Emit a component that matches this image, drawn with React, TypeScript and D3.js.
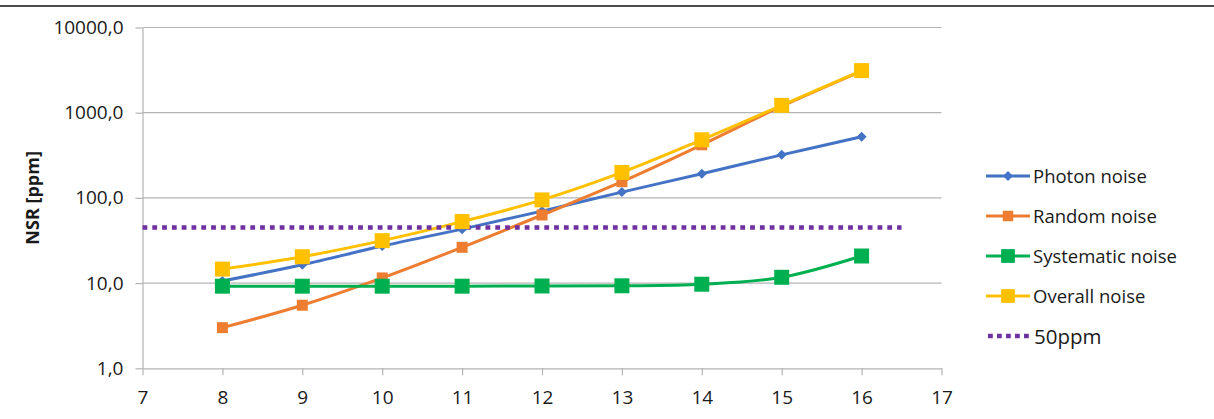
import { useEffect, useRef } from "react";
import * as d3 from "d3";

const xValues = [8, 9, 10, 11, 12, 13, 14, 15, 16];
const photonNoise = [10.6, 16.4, 27.2, 43, 70, 117, 192, 320, 522];
const randomNoise = [3.0, 5.5, 11.5, 26.3, 63, 155, 420, 1190, 3080];
const systematicNoise = [9.2, 9.2, 9.2, 9.2, 9.25, 9.3, 9.7, 11.7, 20.8];
const overallNoise = [14.6, 20.4, 31.5, 52.7, 94.7, 199, 481, 1219, 3120];
const thresholdX = [7, 16.5];
const thresholdValues = [45, 45];
const xTicks = [7, 8, 9, 10, 11, 12, 13, 14, 15, 16, 17];
const yTicks = [1, 10, 100, 1000, 10000];
const seriesNames = ["Photon noise", "Random noise", "Systematic noise", "Overall noise", "50ppm"];

const FONT = "'Open Sans', sans-serif";

const App = () => {
    const svgRef = useRef<SVGSVGElement | null>(null);

    useEffect(() => {
        const width = 1214;
        const height = 419;
        const svg = d3.select(svgRef.current)
            .attr("width", width)
            .attr("height", height);
        svg.selectAll("*").remove();

        const gridColor = "#b4b4b4";

        // top rule
        svg.append("line")
            .attr("x1", 0).attr("x2", width)
            .attr("y1", 6).attr("y2", 6)
            .attr("stroke", "#111").attr("stroke-width", 1.6);

        const xScale = d3.scaleLinear().domain([7, 17]).range([142.5, 941.5]);
        const yScale = d3.scaleLog().domain([1, 10000]).range([368.3, 27.5]);

        // grid
        svg.append("g")
            .selectAll("line")
            .data(yTicks.slice(1))
            .enter()
            .append("line")
            .attr("x1", xScale(7)).attr("x2", xScale(17))
            .attr("y1", (d) => yScale(d)).attr("y2", (d) => yScale(d))
            .attr("stroke", gridColor).attr("stroke-width", 1.2);

        // y axis
        const yAxis = svg.append("g")
            .attr("transform", `translate(${xScale(7)},0)`)
            .call(
                d3.axisLeft(yScale)
                    .tickValues(yTicks)
                    .tickFormat((d) => d3.format(".1f")(d as number).replace(".", ","))
                    .tickSize(7)
                    .tickSizeOuter(0)
                    .tickPadding(12)
            );
        yAxis.selectAll("path,line").attr("stroke", gridColor).attr("stroke-width", 1.2);
        yAxis.selectAll("text")
            .attr("font-family", FONT).attr("font-size", 19).attr("fill", "#1a1a1a");

        // x axis
        const xAxis = svg.append("g")
            .attr("transform", `translate(0,${yScale(1)})`)
            .call(
                d3.axisBottom(xScale)
                    .tickValues(xTicks)
                    .tickFormat((d) => String(d))
                    .tickSize(7)
                    .tickSizeOuter(0)
                    .tickPadding(15)
            );
        xAxis.selectAll("path,line").attr("stroke", gridColor).attr("stroke-width", 1.2);
        xAxis.selectAll("text")
            .attr("font-family", FONT).attr("font-size", 19).attr("fill", "#1a1a1a");

        // y label
        svg.append("text")
            .attr("transform", `translate(38.5,${(yScale(1) + yScale(10000)) / 2}) rotate(-90)`)
            .attr("text-anchor", "middle")
            .attr("font-family", FONT)
            .attr("font-weight", "bold")
            .attr("font-size", 18)
            .attr("fill", "#1a1a1a")
            .text("NSR [ppm]");

        const series = [
            { name: seriesNames[0], values: photonNoise, color: "#4472C4", marker: "diamond", size: 50 },
            { name: seriesNames[1], values: randomNoise, color: "#ED7D31", marker: "square", size: 121 },
            { name: seriesNames[2], values: systematicNoise, color: "#00B050", marker: "square", size: 225 },
            { name: seriesNames[3], values: overallNoise, color: "#FFC000", marker: "square", size: 225 },
        ];

        const line = d3.line<[number, number]>()
            .x((d) => xScale(d[0]))
            .y((d) => yScale(d[1]))
            .curve(d3.curveCatmullRom.alpha(0));

        const plot = svg.append("g");

        series.forEach((s) => {
            plot.append("path")
                .datum(xValues.map((x, i) => [x, s.values[i]] as [number, number]))
                .attr("d", line)
                .attr("fill", "none")
                .attr("stroke", s.color)
                .attr("stroke-width", 3);
        });

        // 50ppm threshold
        plot.append("path")
            .datum(thresholdX.map((x, i) => [x, thresholdValues[i]] as [number, number]))
            .attr("d", d3.line<[number, number]>().x((d) => xScale(d[0])).y((d) => yScale(d[1])))
            .attr("fill", "none")
            .attr("stroke", "#7030A0")
            .attr("stroke-width", 4.5)
            .attr("stroke-dasharray", "4.8 5");

        const symbolPath = (marker: string, size: number) =>
            d3.symbol().type(d3.symbolSquare).size(size)() as string;

        series.forEach((s) => {
            plot.append("g")
                .selectAll("path")
                .data(xValues.map((x, i) => [x, s.values[i]] as [number, number]))
                .enter()
                .append("path")
                .attr("d", symbolPath(s.marker, s.size))
                .attr("transform", (d) =>
                    `translate(${xScale(d[0])},${yScale(d[1])})${s.marker === "diamond" ? " rotate(45)" : ""}`)
                .attr("fill", s.color);
        });

        // legend
        const legend = svg.append("g").attr("transform", "translate(986,0)");
        const rowY = [176, 216, 256, 296, 336];
        series.forEach((s, i) => {
            const row = legend.append("g").attr("transform", `translate(0,${rowY[i]})`);
            row.append("line")
                .attr("x1", 0).attr("x2", 44)
                .attr("stroke", s.color).attr("stroke-width", 3);
            row.append("path")
                .attr("d", symbolPath(s.marker, s.marker === "diamond" ? 50 : i === 1 ? 110 : 190))
                .attr("transform", `translate(22,0)${s.marker === "diamond" ? " rotate(45)" : ""}`)
                .attr("fill", s.color);
            row.append("text")
                .attr("x", 47).attr("y", 7)
                .attr("font-family", FONT).attr("font-size", 18.5).attr("fill", "#1a1a1a")
                .text(s.name);
        });
        const lastRow = legend.append("g").attr("transform", `translate(0,${rowY[4]})`);
        lastRow.append("line")
            .attr("x1", 2).attr("x2", 46)
            .attr("stroke", "#7030A0").attr("stroke-width", 4.5)
            .attr("stroke-dasharray", "4.8 4.2");
        lastRow.append("text")
            .attr("x", 48).attr("y", 8)
            .attr("font-family", FONT).attr("font-size", 20.5).attr("fill", "#1a1a1a")
            .text(seriesNames[4]);

        return () => {
            svg.selectAll("*").remove();
        };
    }, []);

    return (
        <svg ref={svgRef} style={{ position: "absolute", left: 0, top: 0, background: "#fff" }}></svg>
    );
};

export default App;
